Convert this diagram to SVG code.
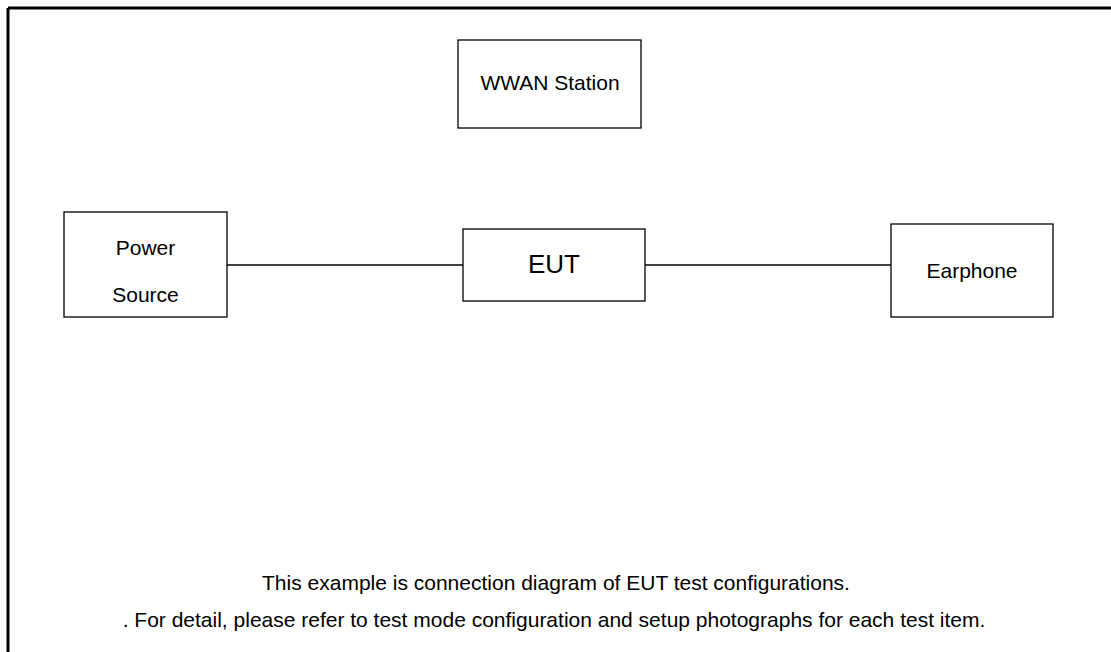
<svg xmlns="http://www.w3.org/2000/svg" width="1111" height="652" viewBox="0 0 1111 652">
<style>
.box{fill:#fff;stroke:#000;stroke-width:1.3}
.t{font-family:"Liberation Sans",Arial,sans-serif;fill:#000;text-anchor:middle}
.conn{stroke:#000;stroke-width:1.3;fill:none}
</style>
<rect width="1111" height="652" fill="#fff"/>
<g id="frame">
<line x1="8" y1="8" x2="1111" y2="8" stroke="#000" stroke-width="3"/>
<line x1="8" y1="8" x2="8" y2="652" stroke="#000" stroke-width="3"/>
</g>
<g id="connectors">
<line class="conn" x1="227" y1="265" x2="463" y2="265"/>
<line class="conn" x1="645" y1="265" x2="891" y2="265"/>
</g>
<g id="wwan">
<rect class="box" x="458" y="40" width="183" height="88"/>
<text class="t" x="550" y="90" font-size="21">WWAN Station</text>
</g>
<g id="power">
<rect class="box" x="64" y="212" width="163" height="105"/>
<text class="t" x="145.5" y="255" font-size="21">Power</text>
<text class="t" x="145.5" y="302" font-size="21">Source</text>
</g>
<g id="eut">
<rect class="box" x="463" y="229" width="182" height="72"/>
<text class="t" x="554" y="273" font-size="26">EUT</text>
</g>
<g id="earphone">
<rect class="box" x="891" y="224" width="162" height="93"/>
<text class="t" x="972" y="278" font-size="21">Earphone</text>
</g>
<g id="notes">
<text class="t" x="556" y="590" font-size="21">This example is connection diagram of EUT test configurations.</text>
<text class="t" x="554" y="627" font-size="21">. For detail, please refer to test mode configuration and setup photographs for each test item.</text>
</g>
</svg>
